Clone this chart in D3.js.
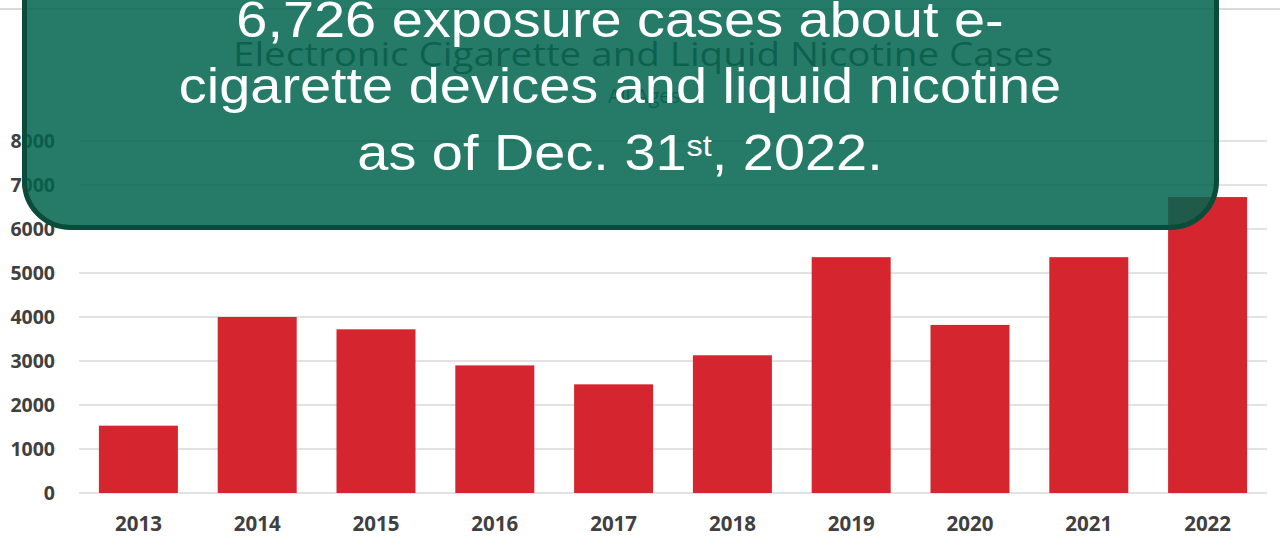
<!DOCTYPE html>
<html>
<head>
<meta charset="utf-8">
<script src="https://cdn.jsdelivr.net/npm/d3@7"></script>
<style>
  html, body { margin: 0; padding: 0; background: #fff; }
  svg { display: block; }
</style>
</head>
<body>
<svg id="chart" width="1280" height="548"></svg>
<script>
const years = ["2013","2014","2015","2016","2017","2018","2019","2020","2021","2022"];
const cases = [1530, 4000, 3720, 2900, 2470, 3130, 5360, 3820, 5360, 6726];
const yTicks = [0,1000,2000,3000,4000,5000,6000,7000,8000];
const chartTitle = "Electronic Cigarette and Liquid Nicotine Cases";
const chartSubtitle = "All Ages";
const calloutLines = ["6,726 exposure cases about e-", "cigarette devices and liquid nicotine"];
const calloutLast = ["as of Dec. 31", "st", ", 2022."];

const svg = d3.select("#chart");

const x = d3.scaleBand().domain(years).range([79, 1267]).paddingInner(0.335).paddingOuter(0.1675);
const y = d3.scaleLinear().domain([0, 8000]).range([493, 141]);

// top frame line
svg.append("line").attr("x1", 0).attr("x2", 1280).attr("y1", 9).attr("y2", 9)
  .attr("stroke", "#d9d9d9").attr("stroke-width", 2);

// gridlines
svg.append("g").selectAll("line").data(yTicks).join("line")
  .attr("x1", 79).attr("x2", 1267)
  .attr("y1", d => y(d)).attr("y2", d => y(d))
  .attr("stroke", "#d9d9d9").attr("stroke-width", 1.5);

const lf = "'Open Sans', sans-serif";
// y axis
const yAxis = svg.append("g").attr("transform", "translate(55,0)")
  .call(d3.axisLeft(y).tickValues(yTicks).tickSize(0).tickPadding(0).tickFormat(d3.format("d")));
yAxis.select(".domain").remove();
yAxis.selectAll("text").attr("font-family", lf).attr("font-weight", "bold")
  .attr("font-size", 19.5).attr("fill", "#404040");

// x axis
const xAxis = svg.append("g").attr("transform", "translate(0,516)")
  .call(d3.axisBottom(x).tickSize(0).tickPadding(0));
xAxis.select(".domain").remove();
xAxis.selectAll("text").attr("font-family", lf).attr("font-weight", "bold")
  .attr("font-size", 20.5).attr("fill", "#404040").attr("dy", "0.71em");

// bars
svg.append("g").selectAll("rect").data(years).join("rect")
  .attr("x", d => x(d)).attr("width", x.bandwidth())
  .attr("y", (d,i) => y(cases[i])).attr("height", (d,i) => y(0) - y(cases[i]))
  .attr("fill", "#d52630");

// chart title (underneath callout)
svg.append("text").attr("x", 643).attr("y", 66).attr("text-anchor", "middle")
  .attr("font-family", lf).attr("font-size", 33).attr("fill", "#555")
  .attr("textLength", 820).attr("lengthAdjust", "spacingAndGlyphs")
  .text(chartTitle);
svg.append("text").attr("x", 644).attr("y", 103).attr("text-anchor", "middle")
  .attr("font-family", lf).attr("font-size", 20).attr("fill", "#555")
  .text(chartSubtitle);

// callout box
svg.append("rect").attr("x", 24.5).attr("y", -100).attr("width", 1192).attr("height", 327.5)
  .attr("rx", 46).attr("ry", 46)
  .attr("fill", "rgb(0,100,78)").attr("fill-opacity", 0.85)
  .attr("stroke", "#0a4c39").attr("stroke-width", 5);

const tf = "'Liberation Sans', Arial, sans-serif";
const cg = svg.append("g").attr("transform", "translate(620,0) scale(1.118,1) translate(-620,0)");
calloutLines.forEach((t, i) => {
  cg.append("text").attr("x", 620).attr("y", 37 + i * 66.5).attr("text-anchor", "middle")
    .attr("font-family", tf).attr("font-size", 50).attr("fill", "#fff").text(t);
});
const last = cg.append("text").attr("x", 620).attr("y", 170).attr("text-anchor", "middle")
  .attr("font-family", tf).attr("font-size", 50).attr("fill", "#fff");
last.append("tspan").text(calloutLast[0]);
last.append("tspan").attr("font-size", 29).attr("dy", -14).text(calloutLast[1]);
last.append("tspan").attr("dy", 14).text(calloutLast[2]);
</script>
</body>
</html>
